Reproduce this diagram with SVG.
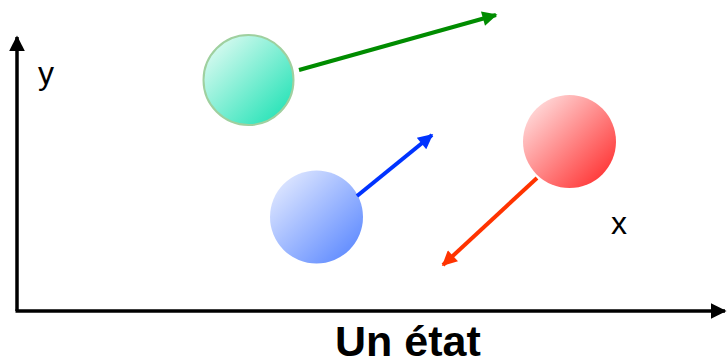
<svg xmlns="http://www.w3.org/2000/svg" width="727" height="364" viewBox="0 0 727 364">
<style>
.axis{stroke:#000;stroke-width:3.5;fill:none}
.vec{stroke-width:4;fill:none}
.lbl{font-family:"Liberation Sans",Arial,sans-serif;fill:#000}
</style>
<defs>
<linearGradient id="gG" x1="0" y1="0" x2="1" y2="1"><stop offset="0" stop-color="#f0fdf8"/><stop offset="1" stop-color="#10e0b0"/></linearGradient>
<linearGradient id="gB" x1="0" y1="0" x2="1" y2="1"><stop offset="0" stop-color="#eef2ff"/><stop offset="1" stop-color="#5080ff"/></linearGradient>
<linearGradient id="gR" x1="0" y1="0" x2="1" y2="1"><stop offset="0" stop-color="#fff0f0"/><stop offset="1" stop-color="#ff2020"/></linearGradient>
<marker id="aK" viewBox="0 0 10 10" refX="9" refY="5" markerWidth="16" markerHeight="16" markerUnits="userSpaceOnUse" orient="auto"><path d="M0,0L10,5L0,10z" fill="#000"/></marker>
<marker id="aG" viewBox="0 0 10 10" refX="9" refY="5" markerWidth="17" markerHeight="15" markerUnits="userSpaceOnUse" orient="auto"><path d="M0,0L10,5L0,10z" fill="#008c00"/></marker>
<marker id="aB" viewBox="0 0 10 10" refX="9" refY="5" markerWidth="17" markerHeight="15" markerUnits="userSpaceOnUse" orient="auto"><path d="M0,0L10,5L0,10z" fill="#0033ff"/></marker>
<marker id="aR" viewBox="0 0 10 10" refX="9" refY="5" markerWidth="17" markerHeight="15" markerUnits="userSpaceOnUse" orient="auto"><path d="M0,0L10,5L0,10z" fill="#ff3300"/></marker>
</defs>
<g id="axes">
<line class="axis" x1="17" y1="311" x2="17" y2="37" marker-end="url(#aK)"/>
<line class="axis" x1="15.5" y1="311" x2="725" y2="311" marker-end="url(#aK)"/>
</g>
<g id="ball-green"><circle cx="248.5" cy="80" r="45" fill="url(#gG)" stroke="#9fd09f" stroke-width="2"/></g>
<g id="ball-blue"><circle cx="316.5" cy="217" r="46.5" fill="url(#gB)"/></g>
<g id="ball-red"><circle cx="569.5" cy="141.5" r="46.5" fill="url(#gR)"/></g>
<g id="connectors">
<line class="vec" stroke="#008c00" x1="299" y1="70" x2="496" y2="15" marker-end="url(#aG)"/>
<line class="vec" stroke="#0033ff" x1="357" y1="196" x2="432" y2="135" marker-end="url(#aB)"/>
<line class="vec" stroke="#ff3300" x1="537" y1="178" x2="443" y2="265" marker-end="url(#aR)"/>
</g>
<text class="lbl" x="38" y="84" font-size="32">y</text>
<text class="lbl" x="611" y="234" font-size="32">x</text>
<text class="lbl" x="335" y="356" font-size="43" font-weight="bold">Un état</text>
</svg>
